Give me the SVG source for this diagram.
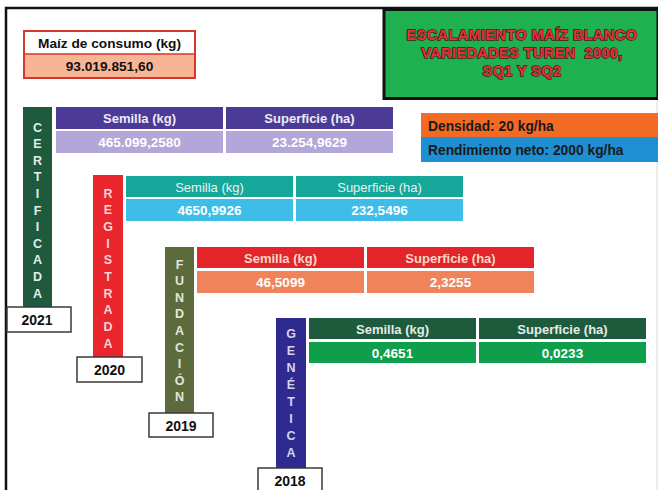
<svg xmlns="http://www.w3.org/2000/svg" width="658" height="490" viewBox="0 0 658 490">
<style>
text{font-family:"Liberation Sans",Arial,sans-serif;font-weight:bold}
.c{text-anchor:middle}
.hd{font-size:13px}
.val{font-size:13.5px;fill:#ffffff}
.yr{font-size:14px;fill:#111}
.yb{fill:#ffffff;stroke:#3a3a3a;stroke-width:1.5}
.col{font-size:12.5px;text-anchor:middle}
.ttl{font-size:14.5px;fill:#e5323c;stroke:#4a1515;stroke-width:1.5;paint-order:stroke;text-anchor:middle;letter-spacing:0.4px}
</style>
<rect x="0" y="0" width="658" height="490" fill="#ffffff"/>
<path d="M6,490 V8 H658" fill="none" stroke="#111" stroke-width="2.5"/>
<line x1="657" y1="100" x2="657" y2="490" stroke="#d8d8d8" stroke-width="1"/>

<g id="maiz">
<rect x="24" y="31" width="171" height="47" fill="#ffffff" stroke="#d9362b" stroke-width="2"/>
<rect x="25" y="54" width="169" height="23" fill="#f8b596"/>
<line x1="24" y1="54" x2="195" y2="54" stroke="#d9362b" stroke-width="1.5"/>
<text class="c" x="109.5" y="47.5" font-size="13.7" fill="#111">Maíz de consumo (kg)</text>
<text class="c" x="109.5" y="71" font-size="13.7" fill="#111">93.019.851,60</text>
</g>

<g id="titulo">
<rect x="384" y="9.5" width="274" height="89" fill="#1fb14f" stroke="#111" stroke-width="3"/>
<text class="ttl" x="522" y="40">ESCALAMIENTO MAÍZ BLANCO</text>
<text class="ttl" x="522" y="58" xml:space="preserve">VARIEDADES TUREN  2000,</text>
<text class="ttl" x="522" y="76">SQ1 Y SQ2</text>
</g>

<g id="parametros">
<rect x="421" y="113" width="237" height="24" fill="#f26a24"/>
<rect x="421" y="137" width="237" height="25" fill="#1d8fd2"/>
<text x="428" y="130.5" font-size="13.8" fill="#1a1a1a">Densidad: 20 kg/ha</text>
<text x="428" y="154.5" font-size="13.8" fill="#1a1a1a">Rendimiento neto: 2000 kg/ha</text>
</g>

<g id="certificada">
<rect x="23" y="107" width="29" height="200" fill="#1e5b3d"/>
<g class="col" fill="#e6ece8">
<text x="37.5" y="131.5">C</text><text x="37.5" y="148.1">E</text><text x="37.5" y="164.7">R</text><text x="37.5" y="181.3">T</text><text x="37.5" y="197.9">I</text><text x="37.5" y="214.5">F</text><text x="37.5" y="231.1">I</text><text x="37.5" y="247.7">C</text><text x="37.5" y="264.3">A</text><text x="37.5" y="280.9">D</text><text x="37.5" y="297.5">A</text>
</g>
<rect x="56" y="107" width="167" height="22" fill="#4b3b97"/>
<rect x="226" y="107" width="167" height="22" fill="#4b3b97"/>
<rect x="56" y="131" width="167" height="22" fill="#b3a6d8"/>
<rect x="226" y="131" width="167" height="22" fill="#b3a6d8"/>
<text class="c hd" x="139.5" y="123" fill="#eeeaf6">Semilla (kg)</text>
<text class="c hd" x="309.5" y="123" fill="#eeeaf6">Superficie (ha)</text>
<text class="c val" x="139.5" y="147">465.099,2580</text>
<text class="c val" x="309.5" y="147">23.254,9629</text>
<rect class="yb" x="7" y="307" width="64" height="25"/>
<text class="c yr" x="37" y="325">2021</text>
</g>

<g id="registrada">
<rect x="93" y="175" width="30" height="182" fill="#e8262c"/>
<g class="col" fill="#f6d6d8">
<text x="108" y="197.5">R</text><text x="108" y="214.2">E</text><text x="108" y="230.9">G</text><text x="108" y="247.6">I</text><text x="108" y="264.3">S</text><text x="108" y="281">T</text><text x="108" y="297.7">R</text><text x="108" y="314.4">A</text><text x="108" y="331.1">D</text><text x="108" y="347.8">A</text>
</g>
<rect x="126" y="176" width="167" height="21" fill="#16a79b"/>
<rect x="296" y="176" width="167" height="21" fill="#16a79b"/>
<rect x="126" y="199" width="167" height="22" fill="#3dbde8"/>
<rect x="296" y="199" width="167" height="22" fill="#3dbde8"/>
<text class="c" x="209.5" y="191.5" font-size="13" fill="#e4f4f2" style="font-weight:normal">Semilla (kg)</text>
<text class="c" x="379.5" y="191.5" font-size="13" fill="#e4f4f2" style="font-weight:normal">Superficie (ha)</text>
<text class="c val" x="209.5" y="215">4650,9926</text>
<text class="c val" x="379.5" y="215">232,5496</text>
<rect class="yb" x="77" y="357" width="65" height="25"/>
<text class="c yr" x="109.5" y="375">2020</text>
</g>

<g id="fundacion">
<rect x="165" y="247" width="29" height="166" fill="#5d6b3c"/>
<g class="col" fill="#e4e6dc">
<text x="179.5" y="268.5">F</text><text x="179.5" y="285.1">U</text><text x="179.5" y="301.7">N</text><text x="179.5" y="318.3">D</text><text x="179.5" y="334.9">A</text><text x="179.5" y="351.5">C</text><text x="179.5" y="368.1">I</text><text x="179.5" y="384.7">Ó</text><text x="179.5" y="401.3">N</text>
</g>
<rect x="197" y="247" width="167" height="21" fill="#e3242b"/>
<rect x="367" y="247" width="167" height="21" fill="#e3242b"/>
<rect x="197" y="271" width="167" height="22" fill="#f0835a"/>
<rect x="367" y="271" width="167" height="22" fill="#f0835a"/>
<text class="c hd" x="280.5" y="262.5" fill="#f6d9c6">Semilla (kg)</text>
<text class="c hd" x="450.5" y="262.5" fill="#f6d9c6">Superficie (ha)</text>
<text class="c val" x="280.5" y="287">46,5099</text>
<text class="c val" x="450.5" y="287">2,3255</text>
<rect class="yb" x="149" y="413" width="64" height="24"/>
<text class="c yr" x="181" y="430.5">2019</text>
</g>

<g id="genetica">
<rect x="276" y="318" width="30" height="150" fill="#2f2a8f"/>
<g class="col" fill="#d6d3ef">
<text x="291" y="337.5">G</text><text x="291" y="354.6">E</text><text x="291" y="371.7">N</text><text x="291" y="388.8">É</text><text x="291" y="405.9">T</text><text x="291" y="423">I</text><text x="291" y="440.1">C</text><text x="291" y="457.2">A</text>
</g>
<rect x="309" y="318" width="167" height="21" fill="#1e5b3d"/>
<rect x="479" y="318" width="167" height="21" fill="#1e5b3d"/>
<rect x="309" y="342" width="167" height="21" fill="#0f9f4c"/>
<rect x="479" y="342" width="167" height="21" fill="#0f9f4c"/>
<text class="c hd" x="392.5" y="333.5" fill="#e6ece8">Semilla (kg)</text>
<text class="c hd" x="562.5" y="333.5" fill="#e6ece8">Superficie (ha)</text>
<text class="c val" x="392.5" y="357.5">0,4651</text>
<text class="c val" x="562.5" y="357.5">0,0233</text>
<rect class="yb" x="258" y="468" width="64" height="24"/>
<text class="c yr" x="290" y="485.5">2018</text>
</g>

<g id="connectors"/>
</svg>
